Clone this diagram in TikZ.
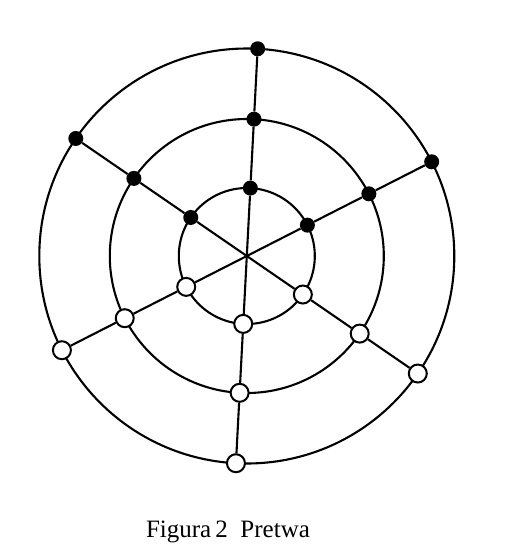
\documentclass[tikz,border=0pt]{standalone}
\usepackage{fontspec}
\setmainfont{Liberation Serif}
\begin{document}
\begin{tikzpicture}[x=1pt,y=1pt,
  edge/.style={line width=2.1pt, draw=black},
  blk/.style={circle, fill=black, minimum size=15pt, inner sep=0pt},
  wht/.style={circle, draw=black, fill=white, line width=2pt, minimum size=18pt, inner sep=0pt}]
\fill[white] (0,-558) rectangle (514,0);
\useasboundingbox (0,-558) rectangle (514,0);
\coordinate (ctr) at (246.8,-256);
% rings
\draw[edge] (ctr) circle[radius=68];
\draw[edge] (ctr) circle[radius=137];
\draw[edge] (ctr) circle[radius=207.5];
% nodes: 1..3 black (upper), 4..6 white (lower)
\foreach \n/\a in {1/27,2/87,3/145.5}{
  \path (ctr) ++(\a:68) node[blk] (i\n) {};
  \path (ctr) ++(\a:137) node[blk] (m\n) {};
  \path (ctr) ++(\a:207.5) node[blk] (o\n) {};
}
\foreach \n/\a in {4/207,5/267,6/325.5}{
  \path (ctr) ++(\a:68) node[wht] (i\n) {};
  \path (ctr) ++(\a:137) node[wht] (m\n) {};
  \path (ctr) ++(\a:207.5) node[wht] (o\n) {};
}
% spokes
\draw[edge] (o1) -- (m1) -- (i1) -- (ctr) -- (i4) -- (m4) -- (o4);
\draw[edge] (o2) -- (m2) -- (i2) -- (ctr) -- (i5) -- (m5) -- (o5);
\draw[edge] (o3) -- (m3) -- (i3) -- (ctr) -- (i6) -- (m6) -- (o6);
% caption
\node[font=\fontsize{25}{28}\selectfont, anchor=base] (cap) at (228,-537) {Figura\,2\ \ Pretwa};
\end{tikzpicture}
\end{document}
